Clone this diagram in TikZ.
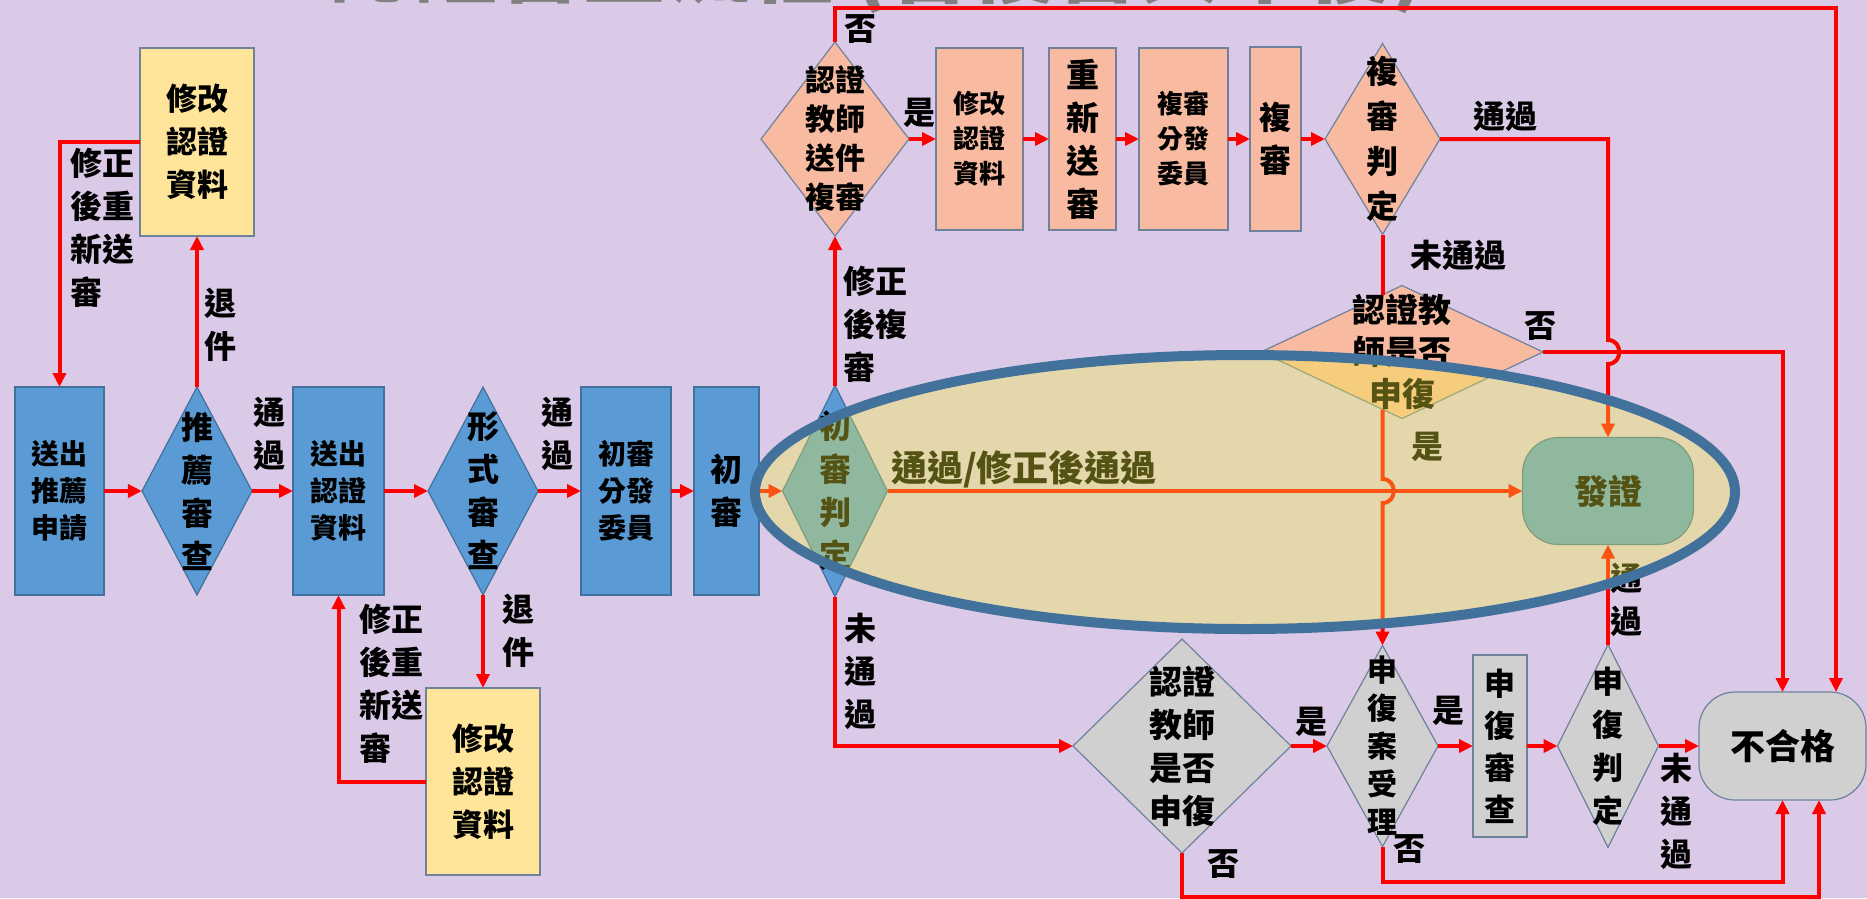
\documentclass[tikz,border=0pt]{standalone}
\usepackage{fontspec}
\setmainfont{Noto Sans CJK TC}
\usetikzlibrary{arrows.meta,positioning,shapes.geometric}
\definecolor{bgpurple}{RGB}{219,202,231}
\definecolor{boxblue}{RGB}{91,155,213}
\definecolor{blueline}{RGB}{65,113,156}
\definecolor{boxsalmon}{RGB}{248,186,160}
\definecolor{boxyellow}{RGB}{255,229,153}
\definecolor{boxgray}{RGB}{208,208,208}
\definecolor{greyline}{RGB}{110,130,155}
\definecolor{ovalfill}{RGB}{243,240,60}
\definecolor{ovalline}{RGB}{66,114,156}
\definecolor{titlegrey}{RGB}{128,128,128}
\newcommand{\fz}[2]{\fontsize{#1}{#2}\selectfont}

\begin{document}
\begin{tikzpicture}[x=1pt,y=-1pt,font=\bfseries,
  box/.style={draw=greyline,line width=1.2pt,inner sep=0pt,outer sep=0pt,align=center},
  dia/.style={diamond,draw=greyline,line width=1.2pt,inner sep=0pt,outer sep=0pt},
  txt/.style={inner sep=0pt,align=center},
  lbl/.style={inner sep=0pt,align=center,font=\bfseries\fz{32}{43}},
  flow/.style={draw=red,line width=4pt},
  arr/.style={flow,-{Triangle[length=14pt,width=13pt]}}]
\useasboundingbox (0,0) rectangle (1867,898);
\fill[bgpurple] (0,0) rectangle (1867,898);
% title, cut off by the top edge
\node[anchor=base west,inner sep=0pt,text=titlegrey,font=\bfseries\fz{84}{90}] (title) at (330,-4) {認證審查流程 (含複審與申復)};

% first stage (blue)
\node[box,draw=blueline,fill=boxblue,minimum width=89pt,minimum height=208pt,font=\bfseries\fz{28}{37}] (apply) at (59.5,491) {送出\\推薦\\申請};
\node[dia,draw=blueline,fill=boxblue,minimum width=110pt,minimum height=208pt] (recheck) at (197,491) {};
\node[txt,font=\bfseries\fz{32}{43}] (recheckt) at (recheck) {推\\薦\\審\\查};
\node[box,draw=blueline,fill=boxblue,minimum width=91pt,minimum height=208pt,font=\bfseries\fz{28}{37}] (submit) at (338.5,491) {送出\\認證\\資料};
\node[dia,draw=blueline,fill=boxblue,minimum width=110pt,minimum height=208pt] (formchk) at (483,491) {};
\node[txt,font=\bfseries\fz{32}{43}] (formchkt) at (formchk) {形\\式\\審\\查};
\node[box,draw=blueline,fill=boxblue,minimum width=90pt,minimum height=208pt,font=\bfseries\fz{28}{37}] (assign) at (626,491) {初審\\分發\\委員};
\node[box,draw=blueline,fill=boxblue,minimum width=65pt,minimum height=208pt,font=\bfseries\fz{32}{43}] (firstrev) at (726.5,491) {初\\審};
\node[dia,draw=blueline,fill=boxblue,minimum width=105pt,minimum height=211pt] (firstjdg) at (835,491) {};
\node[txt,font=\bfseries\fz{32}{43}] (firstjdgt) at (firstjdg) {初\\審\\判\\定};

% returned documents (yellow)
\node[box,fill=boxyellow,minimum width=114pt,minimum height=188pt,font=\bfseries\fz{31}{43}] (fixup) at (197,142) {修改\\認證\\資料};
\node[box,fill=boxyellow,minimum width=114pt,minimum height=187pt,font=\bfseries\fz{31}{43}] (fixdown) at (483,781.5) {修改\\認證\\資料};

% second review (salmon)
\node[dia,fill=boxsalmon,minimum width=148pt,minimum height=194pt] (resub) at (835,139) {};
\node[txt,font=\bfseries\fz{30}{39}] (resubt) at (resub) {認證\\教師\\送件\\複審};
\node[box,fill=boxsalmon,minimum width=87pt,minimum height=182pt,font=\bfseries\fz{26}{35}] (sfix) at (979.5,139) {修改\\認證\\資料};
\node[box,fill=boxsalmon,minimum width=67pt,minimum height=182pt,font=\bfseries\fz{33}{43}] (resend) at (1082.5,139) {重\\新\\送\\審};
\node[box,fill=boxsalmon,minimum width=89pt,minimum height=182pt,font=\bfseries\fz{26}{35}] (sassign) at (1183.5,139) {複審\\分發\\委員};
\node[box,fill=boxsalmon,minimum width=51pt,minimum height=184pt,font=\bfseries\fz{32}{43}] (secrev) at (1275.5,139) {複\\審};
\node[dia,fill=boxsalmon,minimum width=115pt,minimum height=191pt] (secjdg) at (1382.5,139) {};
\node[txt,font=\bfseries\fz{32}{45}] (secjdgt) at (secjdg) {複\\審\\判\\定};
\node[dia,fill=boxsalmon,minimum width=282pt,minimum height=133pt] (appealup) at (1402,352) {};
\node[txt,font=\bfseries\fz{33}{42}] (appealupt) at (appealup) {認證教\\師是否\\申復};

% results
\node[box,draw=blueline,fill=boxblue,rounded corners=36pt,minimum width=171pt,minimum height=107pt,font=\bfseries\fz{34}{40}] (cert) at (1608,491) {發證};
\node[box,fill=boxgray,rounded corners=36pt,minimum width=167pt,minimum height=108pt,font=\bfseries\fz{35}{40}] (fail) at (1782.5,746) {不合格};

% appeal (gray)
\node[dia,fill=boxgray,minimum width=218pt,minimum height=214pt] (appealdn) at (1182,746) {};
\node[txt,font=\bfseries\fz{33}{43}] (appealdnt) at (appealdn) {認證\\教師\\是否\\申復};
\node[dia,fill=boxgray,minimum width=111pt,minimum height=201pt] (accept) at (1382.5,746) {};
\node[txt,font=\bfseries\fz{30}{38}] (acceptt) at (accept) {申\\復\\案\\受\\理};
\node[box,fill=boxgray,minimum width=54pt,minimum height=182pt,font=\bfseries\fz{31}{42}] (appealrev) at (1500,746) {申\\復\\審\\查};
\node[dia,fill=boxgray,minimum width=101pt,minimum height=203pt] (appealjdg) at (1608,746) {};
\node[txt,font=\bfseries\fz{31}{43}] (appealjdgt) at (appealjdg) {申\\復\\判\\定};

% crossing points and outer corners
\coordinate (jumpA) at (cert.north |- appealup.east);
\coordinate (jumpB) at (accept.north |- cert.west);
\coordinate (topR) at (1836,8);

% connectors
\draw[arr] (apply) -- (recheck);
\draw[arr] (recheck) -- (submit);
\draw[arr] (submit) -- (formchk);
\draw[arr] (formchk) -- (assign);
\draw[arr] (assign) -- (firstrev);
\draw[arr] (firstrev) -- (firstjdg);
\draw[arr] (recheck) -- (fixup);
\draw[arr] (fixup.west) -| (apply.north);
\draw[arr] (formchk) -- (fixdown);
\draw[arr] (fixdown.west) -| (submit.south);
\draw[arr] (firstjdg) -- (resub);
\draw[arr] (resub.north) |- (topR) -- (topR |- fail.north);
\draw[arr] (resub) -- (sfix);
\draw[arr] (sfix) -- (resend);
\draw[arr] (resend) -- (sassign);
\draw[arr] (sassign) -- (secrev);
\draw[arr] (secrev) -- (secjdg);
\draw[arr] (secjdg.east) -| ([yshift=12pt]jumpA) .. controls +(15,0) and +(15,0) .. ([yshift=-12pt]jumpA) -- (cert.north);
\draw[flow] (secjdg.south) -- ([yshift=-9pt]secjdg.south |- appealup.north);
\draw[arr] (appealup.east) -| (fail.north);
\draw[arr] ([yshift=9pt]accept.north |- appealup.south) -- ([yshift=12pt]jumpB) .. controls +(15,0) and +(15,0) .. ([yshift=-12pt]jumpB) -- (accept.north);
\draw[arr] (firstjdg) -- (cert);
\draw[arr] (firstjdg.south) |- (appealdn.west);
\draw[arr] (appealdn) -- (accept);
\draw[arr] (accept) -- (appealrev);
\draw[arr] (appealrev) -- (appealjdg);
\draw[arr] (appealjdg) -- (fail);
\draw[arr] (appealjdg) -- (cert);
\draw[arr] (accept.south) -- ++(0,35) -| (fail.south);
\draw[arr] (appealdn.south) -- ++(0,44) -| ([xshift=36.5pt]fail.south);

% connector labels
\node[lbl] (l1) at (269,434) {通\\過};
\node[lbl] (l2) at (557.5,434) {通\\過};
\node[lbl] (l3) at (220,325) {退\\件};
\node[lbl,align=left] (l4) at (102.5,228) {修正\\後重\\新送\\審};
\node[lbl] (l5) at (518,631) {退\\件};
\node[lbl,align=left] (l6) at (391.5,684) {修正\\後重\\新送\\審};
\node[lbl,align=left] (l7) at (875.5,324.5) {修正\\後複\\審};
\node[lbl] (l8) at (860,29) {否};
\node[lbl] (l9) at (919.5,112.5) {是};
\node[lbl] (l10) at (1505.5,116) {通過};
\node[lbl] (l11) at (1458.5,255) {未通過};
\node[lbl] (l12) at (1540,326) {否};
\node[lbl] (l13) at (1427,447) {是};
\node[lbl,font=\bfseries\fz{36}{43}] (l14) at (1024,469) {通過/修正後通過};
\node[lbl] (l15) at (860,671.5) {未\\通\\過};
\node[lbl] (l16) at (1311,721.5) {是};
\node[lbl] (l17) at (1448.5,711) {是};
\node[lbl] (l18) at (1676,811.5) {未\\通\\過};
\node[lbl] (l19) at (1626,600) {通\\過};
\node[lbl] (l20) at (1409.5,849) {否};
\node[lbl] (l21) at (1223.5,864) {否};

% highlight oval over the pass path
\draw[draw=ovalline,line width=10pt,fill=ovalfill,fill opacity=0.35] (1245,492) ellipse [x radius=490, y radius=137];
\end{tikzpicture}
\end{document}
